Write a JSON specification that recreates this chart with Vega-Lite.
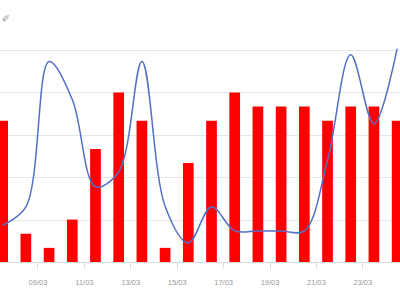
{
  "$schema": "https://vega.github.io/schema/vega-lite/v6.json",
  "width": 400,
  "height": 212,
  "autosize": {"type": "none"},
  "padding": {"top": 50, "left": 0, "right": 0, "bottom": 38},
  "background": "white",
  "title": {"text": "✐", "anchor": "start", "fontSize": 10, "color": "#9a9a9a", "offset": 22, "dx": 2, "font": "DejaVu Sans", "fontWeight": "normal"},
  "data": {"values": [
    {"date": "2023-03-07T12:00:00", "count": 10, "value": 2.6},
    {"date": "2023-03-08T12:00:00", "count": 2, "value": 3.9},
    {"date": "2023-03-09T12:00:00", "count": 1, "value": 14.18},
    {"date": "2023-03-10T12:00:00", "count": 3, "value": 11.5},
    {"date": "2023-03-11T12:00:00", "count": 8, "value": 5.33},
    {"date": "2023-03-12T12:00:00", "count": 12, "value": 6.38},
    {"date": "2023-03-13T12:00:00", "count": 10, "value": 14.18},
    {"date": "2023-03-14T12:00:00", "count": 1, "value": 3.95},
    {"date": "2023-03-15T12:00:00", "count": 7, "value": 1.35},
    {"date": "2023-03-16T12:00:00", "count": 10, "value": 3.9},
    {"date": "2023-03-17T12:00:00", "count": 12, "value": 2.2},
    {"date": "2023-03-18T12:00:00", "count": 11, "value": 2.2},
    {"date": "2023-03-19T12:00:00", "count": 11, "value": 2.2},
    {"date": "2023-03-20T12:00:00", "count": 11, "value": 2.2},
    {"date": "2023-03-21T12:00:00", "count": 10, "value": 7.2},
    {"date": "2023-03-22T12:00:00", "count": 11, "value": 14.66},
    {"date": "2023-03-23T12:00:00", "count": 11, "value": 9.77},
    {"date": "2023-03-24T12:00:00", "count": 10, "value": 15.1}
  ]},
  "encoding": {
    "x": {
      "field": "date",
      "type": "temporal",
      "scale": {"domain": [
        {"year": 2023, "month": 3, "date": 7, "hours": 14, "minutes": 25},
        {"year": 2023, "month": 3, "date": 24, "hours": 9, "minutes": 47}
      ]},
      "axis": {
        "values": [
          {"year": 2023, "month": 3, "date": 9},
          {"year": 2023, "month": 3, "date": 11},
          {"year": 2023, "month": 3, "date": 13},
          {"year": 2023, "month": 3, "date": 15},
          {"year": 2023, "month": 3, "date": 17},
          {"year": 2023, "month": 3, "date": 19},
          {"year": 2023, "month": 3, "date": 21},
          {"year": 2023, "month": 3, "date": 23}
        ],
        "format": "%d/%m",
        "title": null,
        "grid": false,
        "labelFont": "Liberation Sans",
        "labelFontSize": 7.5,
        "labelColor": "#999999",
        "labelPadding": 10,
        "labelFlush": false,
        "tickColor": "#d5dbe3",
        "tickSize": 6,
        "domainColor": "#d5dbe3"
      }
    }
  },
  "layer": [
    {
      "mark": {"type": "bar", "color": "#ff0000", "size": 10.7, "clip": true},
      "encoding": {
        "y": {
          "field": "count",
          "type": "quantitative",
          "scale": {"domain": [0, 15], "nice": false, "zero": true},
          "axis": {
            "values": [0, 1.5, 3, 4.5, 6, 7.5, 9, 10.5, 12, 13.5, 15],
            "labels": false,
            "ticks": false,
            "domain": false,
            "title": null,
            "grid": true,
            "gridColor": "#e3e6ea",
            "gridWidth": 1
          }
        }
      }
    },
    {
      "mark": {"type": "line", "color": "#5470c6", "strokeWidth": 1.5, "interpolate": "catmull-rom", "clip": false},
      "encoding": {
        "y": {"field": "value", "type": "quantitative"}
      }
    }
  ],
  "config": {"view": {"stroke": null}}
}
